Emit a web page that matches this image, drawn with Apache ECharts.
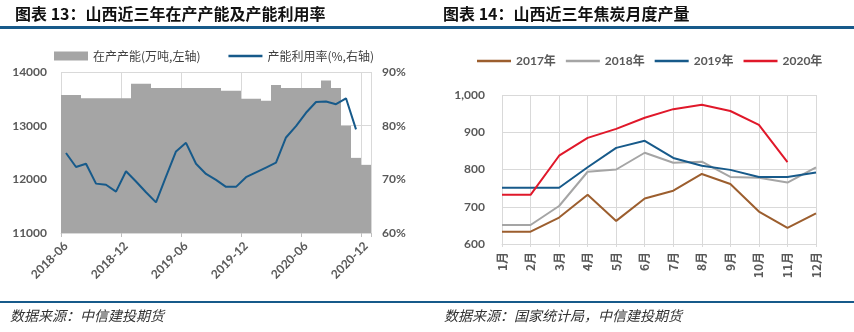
<!DOCTYPE html>
<html>
<head>
<meta charset="utf-8">
<script src="https://cdn.jsdelivr.net/npm/echarts@6/dist/echarts.min.js"></script>
<style>
html,body{margin:0;padding:0;background:#fff;}
#c{width:854px;height:332px;}
</style>
</head>
<body>
<div id="c"></div>
<script>
// ---- Chart 13 data ----
var months13 = ['2018-06','2018-07','2018-08','2018-09','2018-10','2018-11','2018-12',
  '2019-01','2019-02','2019-03','2019-04','2019-05','2019-06','2019-07','2019-08','2019-09','2019-10','2019-11','2019-12',
  '2020-01','2020-02','2020-03','2020-04','2020-05','2020-06','2020-07','2020-08','2020-09','2020-10','2020-11','2020-12'];
var capacity = [13570,13570,13510,13510,13510,13510,13510,
  13780,13780,13700,13700,13700,13700,13700,13700,13700,13650,13650,13500,
  13500,13465,13760,13700,13700,13700,13700,13840,13700,13000,12400,12270];
var utilization = [74.9,72.3,72.9,69.2,69.0,67.7,71.5,
  69.6,67.6,65.7,70.5,75.2,76.8,72.9,71.0,69.9,68.6,68.6,70.4,
  71.3,72.2,73.1,77.8,79.9,82.4,84.4,84.5,84.0,85.1,79.3,null];
var leftTicks13 = ['11000','12000','13000','14000'];
var rightTicks13 = ['60%','70%','80%','90%'];

// ---- Chart 14 data ----
var months14 = ['1月','2月','3月','4月','5月','6月','7月','8月','9月','10月','11月','12月'];
var y2017 = [633,633,671,732,662,722,743,788,761,687,643,682];
var y2018 = [651,651,702,794,800,845,818,821,780,778,765,806];
var y2019 = [751,751,751,806,858,877,831,810,799,780,780,792];
var y2020 = [732,732,837,885,909,939,962,974,957,920,820,null];
var yTicks14 = ['600','700','800','900','1,000'];

var FONT = "Lato, 'Noto Sans CJK SC', sans-serif";
var CJK = "'Noto Sans CJK SC', Lato, sans-serif";
var LBL = '#595959';
var GRID = '#d9d9d9';
var BLUE = '#175a8a';
var LINE_ICON = 'path://M0,0H40V3H0Z';

var chart = echarts.init(document.getElementById('c'), null, {renderer:'canvas'});
var option = {
  animation: false,
  textStyle: {fontFamily: FONT},
  title: [
    {text: '图表 13：山西近三年在产产能及产能利用率', left: 10, top: 1,
     textStyle: {fontFamily: CJK, fontSize: 16, fontWeight: 'bold', color: '#111'}},
    {text: '图表 14：山西近三年焦炭月度产量', left: 438, top: 1,
     textStyle: {fontFamily: CJK, fontSize: 16, fontWeight: 'bold', color: '#111'}}
  ],
  legend: [
    {left: 49, top: 45, itemWidth: 34, itemHeight: 9, itemGap: 28, symbolKeepAspect: true,
     textStyle: {fontFamily: CJK, fontSize: 12, color: '#404040'},
     data: [{name: '在产产能(万吨,左轴)', icon: 'rect'}, {name: '产能利用率(%,右轴)', icon: LINE_ICON}]},
    {left: 472, top: 50, itemWidth: 34, itemHeight: 9, itemGap: 10, symbolKeepAspect: true,
     textStyle: {fontFamily: FONT, fontSize: 12, fontWeight: 'bold', color: LBL},
     data: [{name: '2017年', icon: LINE_ICON}, {name: '2018年', icon: LINE_ICON},
            {name: '2019年', icon: LINE_ICON}, {name: '2020年', icon: LINE_ICON}]}
  ],
  grid: [
    {left: 61, right: 483, top: 72, bottom: 99},
    {left: 502, right: 38, top: 95, bottom: 88}
  ],
  xAxis: [
    {type: 'category', gridIndex: 0, data: months13, boundaryGap: true,
     axisLine: {lineStyle: {color: GRID}},
     axisTick: {show: true, interval: 5, length: 4, lineStyle: {color: '#bfbfbf'}},
     axisLabel: {interval: 5, rotate: 45, margin: 11, fontSize: 12, fontWeight: 'bold', color: LBL},
     splitLine: {show: true, interval: 5, lineStyle: {color: GRID}}},
    {type: 'category', gridIndex: 1, data: months14, boundaryGap: false,
     axisLine: {lineStyle: {color: GRID}},
     axisTick: {show: true, length: 3, lineStyle: {color: GRID}},
     axisLabel: {interval: 0, rotate: 90, margin: 8, fontSize: 12, fontWeight: 'bold', color: LBL, fontFamily: CJK},
     splitLine: {show: true, lineStyle: {color: GRID}}}
  ],
  yAxis: [
    {type: 'value', gridIndex: 0, min: 11000, max: 14000, interval: 1000,
     axisLine: {show: false}, axisTick: {show: false},
     axisLabel: {margin: 14, fontSize: 12, fontWeight: 'bold', color: LBL,
       formatter: function(v){ return leftTicks13[Math.round((v-11000)/1000)]; }},
     splitLine: {lineStyle: {color: GRID}}},
    {type: 'value', gridIndex: 0, min: 60, max: 90, interval: 10, position: 'right',
     axisLine: {show: false}, axisTick: {show: false},
     axisLabel: {margin: 11, fontSize: 12, fontWeight: 'bold', color: LBL,
       formatter: function(v){ return rightTicks13[Math.round((v-60)/10)]; }},
     splitLine: {show: false}},
    {type: 'value', gridIndex: 1, min: 600, max: 1000, interval: 100,
     axisLine: {show: false}, axisTick: {show: false},
     axisLabel: {margin: 17, fontSize: 12, fontWeight: 'bold', color: LBL,
       formatter: function(v){ return yTicks14[Math.round((v-600)/100)]; }},
     splitLine: {lineStyle: {color: GRID}}}
  ],
  series: [
    {name: '在产产能(万吨,左轴)', type: 'bar', xAxisIndex: 0, yAxisIndex: 0, data: capacity,
     barCategoryGap: '0%', itemStyle: {color: '#a5a5a5'}},
    {name: '产能利用率(%,右轴)', type: 'line', xAxisIndex: 0, yAxisIndex: 1, data: utilization,
     symbol: 'none', lineStyle: {color: BLUE, width: 2}, itemStyle: {color: BLUE}},
    {name: '2017年', type: 'line', xAxisIndex: 1, yAxisIndex: 2, data: y2017, symbol: 'none',
     lineStyle: {color: '#9c5e2e', width: 2}, itemStyle: {color: '#9c5e2e'}},
    {name: '2018年', type: 'line', xAxisIndex: 1, yAxisIndex: 2, data: y2018, symbol: 'none',
     lineStyle: {color: '#a5a5a5', width: 2}, itemStyle: {color: '#a5a5a5'}},
    {name: '2019年', type: 'line', xAxisIndex: 1, yAxisIndex: 2, data: y2019, symbol: 'none',
     lineStyle: {color: BLUE, width: 2}, itemStyle: {color: BLUE}},
    {name: '2020年', type: 'line', xAxisIndex: 1, yAxisIndex: 2, data: y2020, symbol: 'none',
     lineStyle: {color: '#e0182a', width: 2}, itemStyle: {color: '#e0182a'}}
  ],
  graphic: [
    {type: 'rect', left: 0, top: 26, shape: {width: 854, height: 3}, style: {fill: BLUE}, silent: true},
    {type: 'rect', left: 0, top: 301, shape: {width: 854, height: 2}, style: {fill: BLUE}, silent: true},
    {type: 'text', left: 10, top: 309, style: {text: '数据来源：中信建投期货', fill: '#333',
      font: 'italic 14px ' + CJK}},
    {type: 'text', left: 444, top: 309, style: {text: '数据来源：国家统计局，中信建投期货', fill: '#333',
      font: 'italic 14px ' + CJK}}
  ]
};
chart.setOption(option);
</script>
</body>
</html>
